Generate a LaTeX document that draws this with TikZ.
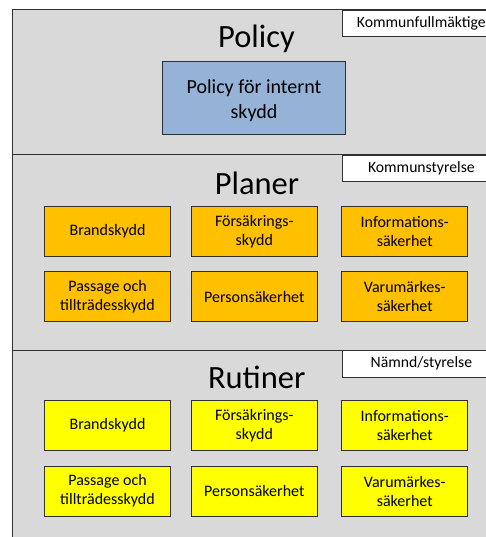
\documentclass[tikz,border=0pt]{standalone}
\usepackage{fontspec}
\setmainfont{Carlito}
\definecolor{secgray}{HTML}{D9D9D9}
\definecolor{polblue}{HTML}{95B3D7}
\definecolor{planorange}{HTML}{FFC000}
\definecolor{rutyellow}{HTML}{FFFF00}
\definecolor{edge}{HTML}{303030}
\tikzset{
  section/.style={fill=secgray, draw=edge, line width=1pt},
  tagbox/.style={draw=edge, fill=white, line width=1pt, anchor=north west,
    minimum width=158.3pt, minimum height=26.5pt, inner sep=0pt,
    font=\fontsize{15.7}{18}\selectfont},
  heading/.style={anchor=base, inner sep=0pt, font=\fontsize{32.5}{39}\selectfont},
  item/.style={draw=edge, line width=1pt, minimum width=125.5pt, minimum height=50pt,
    inner sep=0pt, align=center, font=\fontsize{16}{19}\selectfont},
  planbox/.style={item, fill=planorange},
  rutbox/.style={item, fill=rutyellow},
  polbox/.style={draw=edge, line width=1pt, fill=polblue, minimum width=182.6pt,
    minimum height=72.6pt, inner sep=0pt},
  poltext/.style={inner sep=0pt, align=center, font=\fontsize{20}{25.5}\selectfont}
}
\begin{document}
\begin{tikzpicture}[x=1pt,y=-1pt]
\useasboundingbox (0,0) rectangle (486,537);
\clip (0,0) rectangle (486,537);
% sections
\draw[section] (12.5,10) rectangle (500,155);
\draw[section] (12.5,155) rectangle (500,350);
\draw[section] (12.5,350) rectangle (500,560);
% tags
\node[tagbox] (tag1) at (341.7,10) {Kommunfullmäktige};
\node[tagbox] (tag2) at (341.7,155) {Kommunstyrelse};
\node[tagbox] (tag3) at (341.7,350) {Nämnd/styrelse};
% headings
\node[heading] (h1) at (256.5,47.7) {Policy};
\node[heading] (h2) at (257,194.3) {Planer};
\node[heading] (h3) at (256.7,388.3) {Rutiner};
% policy
\node[polbox] (pol) at (254,98) {};
\node[poltext] (poltxt) at (254,100.5) {Policy för internt\\skydd};
% planer
\node[planbox] (p1) at (107.5,231.7) {Brandskydd};
\node[planbox] (p2) at (254.3,231.7) {Försäkrings-\\skydd};
\node[planbox] (p3) at (404.7,231.7) {Informations-\\säkerhet};
\node[planbox] (p4) at (107.5,296.7) {Passage och\\tillträdesskydd};
\node[planbox] (p5) at (254.3,296.7) {Personsäkerhet};
\node[planbox] (p6) at (404.7,296.7) {Varumärkes-\\säkerhet};
% rutiner
\node[rutbox] (r1) at (107.5,425.3) {Brandskydd};
\node[rutbox] (r2) at (254.3,425.3) {Försäkrings-\\skydd};
\node[rutbox] (r3) at (404.7,425.3) {Informations-\\säkerhet};
\node[rutbox] (r4) at (107.5,491) {Passage och\\tillträdesskydd};
\node[rutbox] (r5) at (254.3,491) {Personsäkerhet};
\node[rutbox] (r6) at (404.7,491) {Varumärkes-\\säkerhet};
\end{tikzpicture}
\end{document}
